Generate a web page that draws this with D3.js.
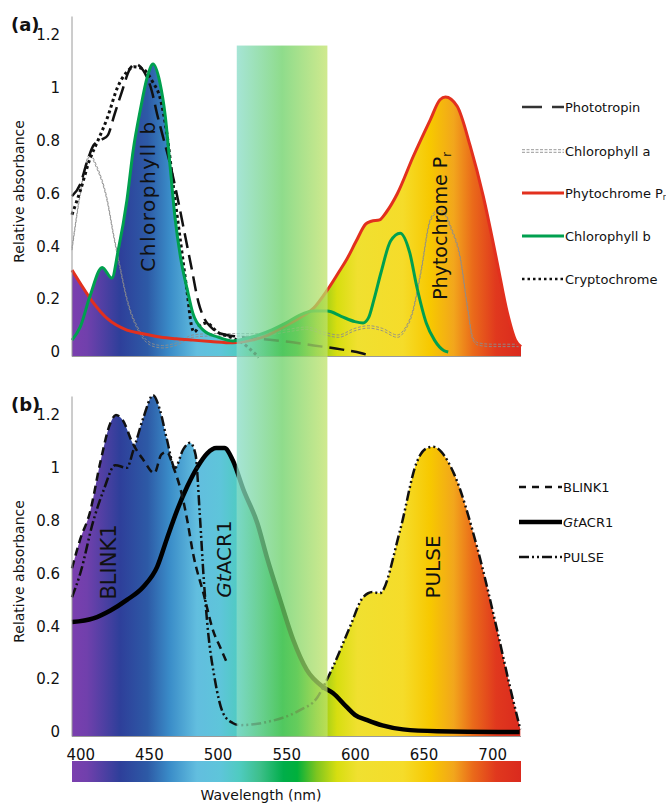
<!DOCTYPE html>
<html>
<head>
<meta charset="utf-8">
<script src="https://cdn.jsdelivr.net/npm/d3@7"></script>
<style>
  body { margin: 0; background: #fff; }
  svg { display: block; }
  text { font-family: "DejaVu Sans", sans-serif; fill: #111; }
</style>
</head>
<body>
<svg id="chart" width="666" height="804"></svg>
<script>
// ---- data: [wavelength nm, relative absorbance] ----
// panel (a)
const phototropin = [[394,0.59],[400,0.635],[405,0.72],[410,0.785],[416,0.805],[420,0.82],[425,0.9],[430,0.98],[436,1.07],[440,1.09],[446,1.065],[452,0.99],[456,0.9],[460,0.82],[466,0.7],[471,0.58],[476,0.45],[481,0.32],[486,0.19],[490,0.13],[495,0.095],[502,0.07],[512,0.06],[530,0.05],[550,0.04],[570,0.025],[590,0.01],[605,-0.005],[612,-0.015]];
const chlorophyllA = [[394,0.39],[400,0.6],[404,0.71],[407,0.745],[412,0.7],[419.6,0.575],[424,0.45],[429,0.32],[434,0.2],[443.7,0.072],[453,0.026],[460,0.02],[470,0.03],[482,0.06],[495,0.065],[510,0.065],[530,0.065],[550,0.08],[565,0.09],[578,0.07],[588,0.06],[600,0.085],[610,0.095],[620,0.085],[631,0.06],[637,0.09],[642,0.15],[648,0.3],[655,0.5],[660,0.53],[664,0.53],[670,0.47],[677,0.35],[682,0.17],[686,0.05],[690,0.03],[700,0.025],[721,0.025]];
const phytochrome = [[394,0.31],[400,0.26],[409,0.19],[420,0.125],[434,0.083],[445,0.07],[458,0.057],[470,0.05],[482,0.045],[495,0.04],[511,0.035],[525,0.045],[535,0.06],[548,0.095],[560,0.13],[570,0.166],[580,0.235],[588,0.3],[594,0.35],[601,0.42],[608,0.485],[612,0.495],[618,0.5],[623,0.53],[631,0.6],[642.5,0.74],[655,0.88],[662,0.955],[666,0.965],[674.5,0.93],[684,0.78],[693.5,0.59],[703.6,0.34],[711,0.15],[717,0.045],[721,0.02]];
const chlorophyllB = [[394,0.045],[400,0.095],[407,0.21],[416,0.32],[423,0.28],[427.7,0.386],[434,0.575],[438.6,0.765],[443.7,0.915],[448.8,1.04],[453,1.09],[458,1.02],[462,0.89],[465.5,0.7],[469,0.51],[473,0.36],[478,0.235],[482,0.147],[489.6,0.083],[500,0.057],[511,0.042],[520,0.05],[530,0.065],[540,0.085],[550,0.11],[560,0.14],[570,0.155],[580,0.155],[590,0.135],[600,0.115],[606,0.11],[610,0.13],[614,0.2],[619,0.3],[626,0.42],[633,0.45],[640,0.375],[645,0.25],[652,0.11],[658,0.045],[665,0.005],[668,0]];
const cryptochrome = [[394,0.52],[400,0.61],[407,0.73],[412,0.79],[420,0.89],[427,1.0],[434,1.06],[439,1.08],[446,1.07],[453,1.02],[458,0.965],[463,0.83],[468,0.62],[474,0.38],[478,0.22],[481,0.1],[483,0.075],[487,0.1],[492,0.11],[500,0.075],[510,0.055],[518,0.035],[526,0.0],[530,-0.02]];
// panel (b)
const blink1 = [[394,0.62],[400,0.73],[407,0.83],[414.6,1.02],[422,1.17],[426,1.2],[431,1.18],[438,1.095],[446,1.03],[454,0.98],[459,1.05],[463,1.06],[468,1.0],[473,0.92],[478,0.8],[482,0.68],[490,0.52],[497,0.38],[502,0.32],[507,0.26]];
const gtacr1 = [[394,0.416],[409.5,0.43],[422,0.46],[434,0.5],[446,0.55],[456,0.625],[463,0.73],[470.6,0.84],[478,0.93],[485,1.0],[492.5,1.055],[499,1.075],[505,1.075],[511,1.03],[519,0.915],[529,0.79],[536,0.66],[545.6,0.5],[555,0.35],[565,0.235],[577,0.17],[584,0.148],[594,0.095],[600,0.065],[609,0.045],[620,0.025],[635,0.01],[660,0.003],[720,0]];
const pulse = [[394,0.51],[400,0.6],[409.6,0.8],[417,0.915],[425.5,1.01],[434,1.0],[438.6,1.065],[446,1.19],[453,1.275],[458,1.22],[463,1.11],[469,1.0],[475,1.07],[480,1.095],[484,1.05],[487,0.83],[490,0.575],[493,0.385],[498,0.2],[504,0.072],[511,0.034],[516,0.026],[536,0.038],[560,0.083],[572.5,0.13],[578.4,0.185],[584,0.246],[596.6,0.4],[606,0.51],[613,0.53],[618,0.525],[633,0.765],[645,1.02],[651,1.07],[657,1.08],[663,1.06],[672,0.98],[689,0.7],[703.6,0.386],[713,0.17],[720.5,0.01]];

const yTicks = [0, 0.2, 0.4, 0.6, 0.8, 1, 1.2];
const xTicks = [400, 450, 500, 550, 600, 650, 700];
const bandRange = [514, 580]; // highlighted green window (nm)

// colour of the visible spectrum at a given wavelength
const spectrum = [[394,"#7B3FAF"],[405,"#7040AC"],[429,"#2E3F9A"],[449,"#2D5AA6"],[465,"#3A8CC8"],[485,"#62BEDF"],[502,"#5EC5DA"],[516,"#4FCBC0"],[531,"#3DBF8A"],[548,"#00AE4A"],[558,"#00B03C"],[572,"#7DC520"],[587,"#D7DE10"],[602,"#F0E030"],[635,"#F5DC2A"],[655,"#F7C800"],[672,"#F2A61C"],[686,"#EA6A1A"],[703,"#E0381E"],[721,"#DA2A1E"]];

const svg = d3.select("#chart");
const x = d3.scaleLinear().domain([394, 721]).range([72, 521]);
const yA = d3.scaleLinear().domain([-0.017, 1.27]).range([356.5, 16.5]);
const yB = d3.scaleLinear().domain([-0.017, 1.27]).range([736.5, 396.5]);
const yMin = -0.017, yMax = 1.27;

const defs = svg.append("defs");
const spec = defs.append("linearGradient")
    .attr("id", "spec")
    .attr("gradientUnits", "userSpaceOnUse")
    .attr("x1", x(394)).attr("x2", x(721)).attr("y1", 0).attr("y2", 0);
spec.selectAll("stop").data(spectrum).enter().append("stop")
    .attr("offset", d => (x(d[0]) - x(394)) / (x(721) - x(394)))
    .attr("stop-color", d => d[1]);

const bandGrad = defs.append("linearGradient").attr("id", "band");
bandGrad.append("stop").attr("offset", 0).attr("stop-color", "#5DCFB4");
bandGrad.append("stop").attr("offset", 0.5).attr("stop-color", "#33BF2D");
bandGrad.append("stop").attr("offset", 1).attr("stop-color", "#A9D831");

function drawPanel(id, y, fills, lines, tag) {
    const area = d3.area().curve(d3.curveMonotoneX)
        .x(d => x(d[0])).y0(y(yMin)).y1(d => y(d[1]));
    const line = d3.line().curve(d3.curveMonotoneX)
        .x(d => x(d[0])).y(d => y(d[1]));

    // spectrum fill under the envelope of the chosen series
    const clip = defs.append("clipPath").attr("id", "clip-" + id);
    fills.forEach(s => clip.append("path").attr("d", area(s)));
    svg.append("rect")
        .attr("x", x(394)).attr("width", x(721) - x(394))
        .attr("y", y(yMax)).attr("height", y(yMin) - y(yMax))
        .attr("fill", "url(#spec)")
        .attr("clip-path", "url(#clip-" + id + ")");

    lines.forEach(l => {
        (l.offsets || [0]).forEach(o => {
            svg.append("path")
                .attr("d", line(l.data))
                .attr("transform", "translate(0," + o + ")")
                .attr("fill", "none")
                .attr("stroke", l.color)
                .attr("stroke-width", l.width)
                .attr("stroke-dasharray", l.dash || null)
                .attr("stroke-linejoin", "round");
        });
    });

    // axes
    svg.append("line")
        .attr("x1", x(394)).attr("x2", x(394))
        .attr("y1", y(yMax)).attr("y2", y(yMin))
        .attr("stroke", "#9a9a9a");
    svg.append("line")
        .attr("x1", x(394)).attr("x2", x(721))
        .attr("y1", y(yMin)).attr("y2", y(yMin))
        .attr("stroke", "#9a9a9a");

    const ax = svg.append("g")
        .attr("transform", "translate(" + x(394) + ",0)")
        .call(d3.axisLeft(y).tickValues(yTicks).tickSize(0).tickPadding(12).tickFormat(d3.format("~g")));
    ax.select(".domain").remove();
    ax.selectAll("text").attr("font-size", 15).attr("font-family", "DejaVu Sans").attr("fill", "#111");

    svg.append("text")
        .attr("transform", "translate(19," + (y(0.6) - 2) + ") rotate(-90)")
        .attr("text-anchor", "middle").attr("dy", "0.35em")
        .attr("font-size", 14)
        .text("Relative absorbance");

    svg.append("text")
        .attr("x", 11).attr("y", y(yMax) + 8)
        .attr("dy", "0.35em")
        .attr("font-size", 18).attr("font-weight", "bold")
        .text(tag);
}

drawPanel("a", yA, [chlorophyllB, phytochrome], [
    { data: chlorophyllA, color: "#8c8c8c", width: 0.9, dash: "3,1.6", offsets: [-1.2, 1.2] },
    { data: cryptochrome, color: "#111", width: 3, dash: "3,3" },
    { data: phototropin, color: "#111", width: 2.5, dash: "15,7" },
    { data: phytochrome, color: "#E2301E", width: 3 },
    { data: chlorophyllB, color: "#00A04F", width: 3 }
], "(a)");

drawPanel("b", yB, [blink1, pulse, gtacr1], [
    { data: gtacr1, color: "#000", width: 4.5 },
    { data: blink1, color: "#111", width: 2.5, dash: "8,5" },
    { data: pulse, color: "#111", width: 2.5, dash: "10,3,2,3,2,3" }
], "(b)");

// translucent green window across both panels
const band = svg.append("g");
band.append("rect")
    .attr("x", x(bandRange[0])).attr("width", x(bandRange[1]) - x(bandRange[0]))
    .attr("y", yA(1.16)).attr("height", yB(yMin) - yA(1.16))
    .attr("fill", "#fff").attr("opacity", 0.45);
band.append("rect")
    .attr("x", x(bandRange[0])).attr("width", x(bandRange[1]) - x(bandRange[0]))
    .attr("y", yA(1.16)).attr("height", yB(yMin) - yA(1.16))
    .attr("fill", "url(#band)").attr("opacity", 0.55);

// wavelength axis + colour bar
const xa = svg.append("g")
    .attr("transform", "translate(0,749.5)")
    .call(d3.axisBottom(x).tickValues(xTicks).tickSize(0).tickPadding(0));
xa.select(".domain").remove();
xa.selectAll("text").attr("font-size", 15).attr("font-family", "DejaVu Sans").attr("fill", "#111");

svg.append("rect")
    .attr("x", x(394)).attr("width", x(721) - x(394))
    .attr("y", 761).attr("height", 21)
    .attr("fill", "url(#spec)");

svg.append("text")
    .attr("x", 261).attr("y", 800)
    .attr("text-anchor", "middle").attr("font-size", 14)
    .text("Wavelength (nm)");

// curve labels
function vlabel(cx, cy, size, parts) {
    const t = svg.append("text")
        .attr("transform", "translate(" + cx + "," + cy + ") rotate(-90)")
        .attr("text-anchor", "middle").attr("dy", "0.35em")
        .attr("font-size", size);
    parts.forEach(p => {
        const s = t.append("tspan").text(p.t);
        if (p.italic) s.attr("font-style", "italic");
        if (p.sub) s.attr("font-size", size * 0.6).attr("dy", "0.35em");
    });
    return t;
}
vlabel(148, 196, 20, [{ t: "Chlorophyll b" }]).attr("letter-spacing", 1.5);
vlabel(440, 226, 19, [{ t: "Phytochrome P" }, { t: "r", sub: true }]);
vlabel(109, 562, 21, [{ t: "BLINK1" }]);
vlabel(224, 559, 20, [{ t: "Gt", italic: true }, { t: "ACR1" }]);
vlabel(433, 567, 20, [{ t: "PULSE" }]);

// legends
const legendA = [
    { y: 107, label: [{ t: "Phototropin" }], color: "#333", width: 2.5, dash: "20,10" },
    { y: 151, label: [{ t: "Chlorophyll a" }], color: "#999", width: 1, dash: "3,1.5", offsets: [-1.3, 1.3] },
    { y: 193, label: [{ t: "Phytochrome P" }, { t: "r", sub: true }], color: "#E2301E", width: 3 },
    { y: 236, label: [{ t: "Chlorophyll b" }], color: "#00A04F", width: 3 },
    { y: 279, label: [{ t: "Cryptochrome" }], color: "#111", width: 2.5, dash: "2.5,3" }
];
const legendB = [
    { y: 487, label: [{ t: "BLINK1" }], color: "#111", width: 2.5, dash: "7,6" },
    { y: 522, label: [{ t: "Gt", italic: true }, { t: "ACR1" }], color: "#000", width: 4.5 },
    { y: 557, label: [{ t: "PULSE" }], color: "#111", width: 2.5, dash: "10,3,2,3,2,3" }
];
function drawLegend(items, x1, x2) {
    items.forEach(it => {
        (it.offsets || [0]).forEach(o => {
            svg.append("line")
                .attr("x1", x1).attr("x2", x2)
                .attr("y1", it.y + o).attr("y2", it.y + o)
                .attr("stroke", it.color).attr("stroke-width", it.width)
                .attr("stroke-dasharray", it.dash || null);
        });
        const t = svg.append("text")
            .attr("x", x2 + 1).attr("y", it.y).attr("dy", "0.35em")
            .attr("font-size", 13);
        it.label.forEach(p => {
            const s = t.append("tspan").text(p.t);
            if (p.italic) s.attr("font-style", "italic");
            if (p.sub) s.attr("font-size", 8).attr("dy", "0.3em");
        });
    });
}
drawLegend(legendA, 522, 564);
drawLegend(legendB, 519, 562);
</script>
</body>
</html>
